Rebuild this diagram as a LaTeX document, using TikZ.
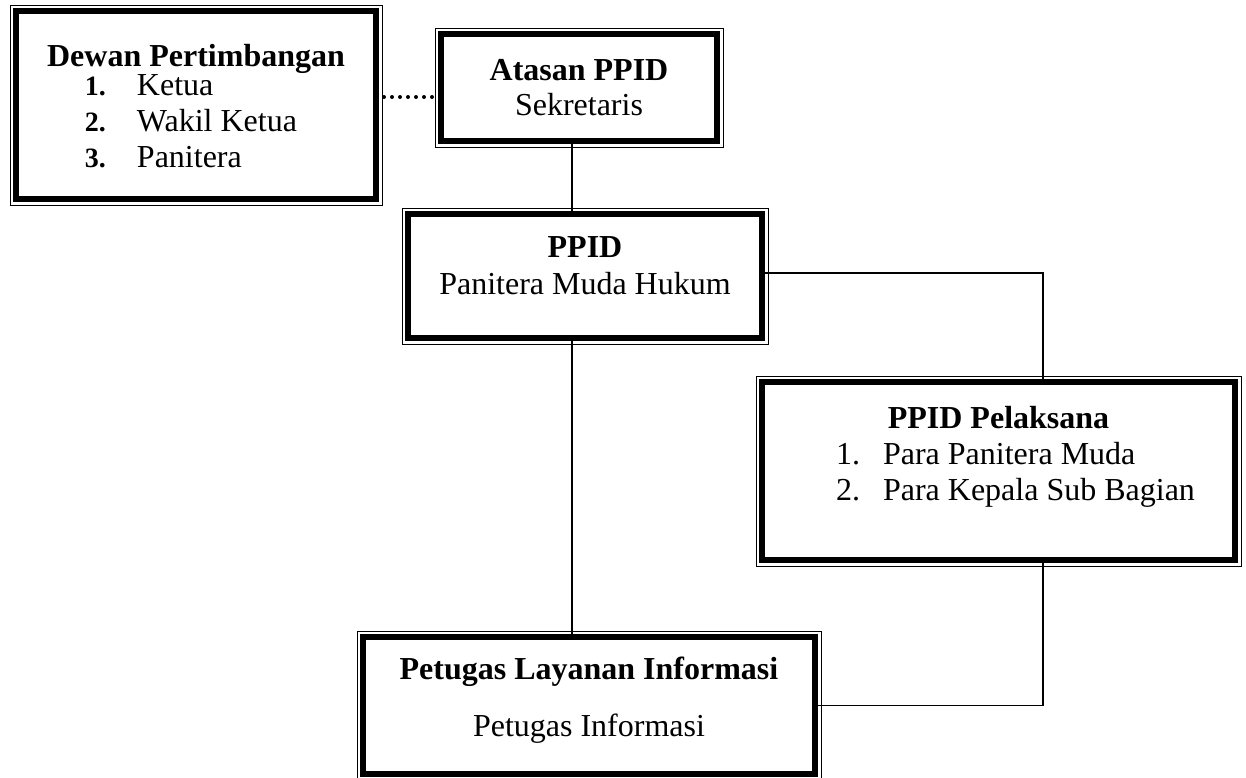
\documentclass[tikz,border=0pt]{standalone}
\usepackage{fontspec}
\setmainfont{Liberation Serif}
\usepackage{array}
\usetikzlibrary{positioning}

\begin{document}
\begin{tikzpicture}[
    x=0.5pt, y=-0.5pt,
    ppidbox/.style={rectangle, draw, line width=3.2pt, outer sep=0pt, align=center,
        font=\fontsize{16}{18}\selectfont},
    ppidframe/.style={draw, line width=0.5pt},
    link/.style={draw, line width=0.6pt},
    dotlink/.style={draw, line width=2pt, line cap=round, dash pattern=on 0pt off 4pt},
]
\useasboundingbox (0,0) rectangle (1246,777);

% Boxes
\node[ppidbox, minimum width=180pt, minimum height=94pt, text depth=35pt] (dewan) at (196,105)
    {\textbf{Dewan Pertimbangan}\\[-3.5pt]
     \hspace*{-5pt}\begin{tabular}[t]{@{}p{26pt}@{}l@{}}
     {\fontsize{14}{18}\selectfont\bfseries 1.} & Ketua\\
     {\fontsize{14}{18}\selectfont\bfseries 2.} & Wakil Ketua\\
     {\fontsize{14}{18}\selectfont\bfseries 3.} & Panitera
     \end{tabular}};
\node[ppidbox, minimum width=138pt, minimum height=53.5pt] (atasan) at (579,87.5)
    {\textbf{Atasan PPID}\\[-0.5pt] Sekretaris};
\node[ppidbox, minimum width=177pt, minimum height=62pt, text depth=10pt] (ppid) at (585,276)
    {\textbf{PPID}\\[0.5pt] Panitera Muda Hukum};
\node[ppidbox, minimum width=236.5pt, minimum height=89pt, text depth=36pt] (pelaksana) at (998.5,471)
    {\textbf{PPID Pelaksana}\\
     \hspace*{17pt}\begin{tabular}[t]{@{}p{23.5pt}@{}l@{}}
     1. & Para Panitera Muda\\
     2. & Para Kepala Sub Bagian
     \end{tabular}};
\node[ppidbox, minimum width=226pt, minimum height=68.5pt, text depth=8.5pt] (petugas) at (589,705.5)
    {\textbf{Petugas Layanan Informasi}\\[10.5pt] Petugas Informasi};

% thin outer frames
\foreach \n in {dewan,atasan,ppid,pelaksana,petugas}
    \draw[ppidframe] ([xshift=-3pt,yshift=3pt]\n.north west) rectangle ([xshift=3pt,yshift=-3pt]\n.south east);

% Connectors
\coordinate (dotrow) at (0,97);
\coordinate (trunk) at (572,0);
\coordinate (rbranch) at (1043,273);
\draw[dotlink, shorten <=4pt, shorten >=3pt] (dewan.east |- dotrow) -- (atasan.west |- dotrow);
\draw[link] (atasan.south -| trunk) -- (ppid.north -| trunk);
\draw[link] (ppid.south -| trunk) -- (petugas.north -| trunk);
\draw[link] (ppid.east |- rbranch) -| (pelaksana.north -| rbranch);
\draw[link] (pelaksana.south -| rbranch) |- (petugas.east);

\end{tikzpicture}
\end{document}
